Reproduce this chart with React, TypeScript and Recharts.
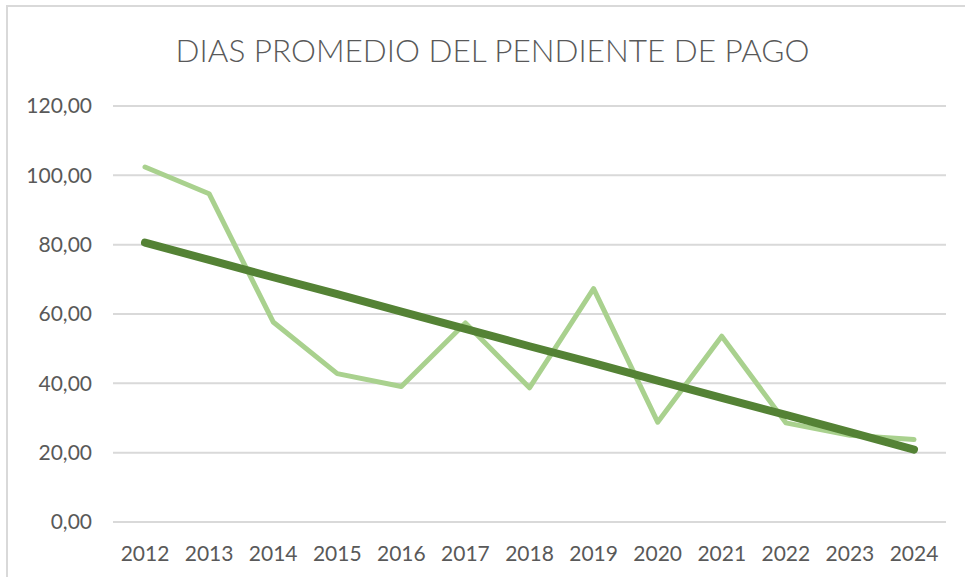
import React from "react";
import { LineChart, Line, XAxis, YAxis, CartesianGrid } from "recharts";

const years = ["2012", "2013", "2014", "2015", "2016", "2017", "2018", "2019", "2020", "2021", "2022", "2023", "2024"];
const diasPromedio = [102.4, 94.7, 57.7, 42.8, 39.1, 57.4, 38.7, 67.3, 28.8, 53.6, 28.6, 25.0, 23.8];
const tendencia = [80.6, 75.6, 70.6, 65.7, 60.7, 55.7, 50.7, 45.8, 40.8, 35.8, 30.9, 25.9, 20.9];
const yTicks = [0, 20, 40, 60, 80, 100, 120];
const title = "DIAS PROMEDIO DEL PENDIENTE DE PAGO";

const data = years.map((y, i) => ({ year: y, value: diasPromedio[i], trend: tendencia[i] }));

const fmt = (v: number) => v.toFixed(2).replace(".", ",");
const FONT = "Lato, 'Open Sans', sans-serif";
const TXT = "#595959";

export default function App() {
  return (
    <div style={{ position: "absolute", left: 0, top: 0, width: 965, height: 577, background: "#fff", overflow: "hidden" }}>
      <div
        style={{
          position: "absolute",
          left: 6,
          top: 5,
          width: 1000,
          height: 1000,
          border: "2px solid #d9d9d9",
          boxSizing: "border-box",
        }}
      />
      <div
        style={{
          position: "absolute",
          left: 0,
          width: 985,
          top: 30,
          textAlign: "center",
          fontFamily: FONT,
          fontSize: 31.5,
          fontWeight: 300,
          color: TXT,
          lineHeight: "40px",
        }}
      >
        {title}
      </div>
      <div style={{ position: "absolute", left: 0, top: 0 }}>
        <LineChart width={965} height={577} data={data} margin={{ top: 106, right: 19, bottom: 0, left: 8 }}>
          <CartesianGrid vertical={false} stroke="#d9d9d9" strokeWidth={2} />
          <XAxis
            dataKey="year"
            axisLine={false}
            tickLine={false}
            tickSize={0}
            tickMargin={24}
            height={55}
            interval={0}
            padding={{ left: 32, right: 32 }}
            tick={{ fill: TXT, fontSize: 21, fontFamily: FONT }}
          />
          <YAxis
            domain={[0, 120]}
            ticks={yTicks}
            tickFormatter={fmt}
            axisLine={false}
            tickLine={false}
            tickSize={0}
            tickMargin={21}
            width={105}
            tick={{ fill: TXT, fontSize: 21, fontFamily: FONT }}
          />
          <Line
            type="linear"
            dataKey="value"
            stroke="#a9d18e"
            strokeWidth={5}
            dot={false}
            strokeLinecap="round"
            strokeLinejoin="round"
            isAnimationActive={false}
          />
          <Line
            type="linear"
            dataKey="trend"
            stroke="#548235"
            strokeWidth={8}
            dot={false}
            strokeLinecap="round"
            isAnimationActive={false}
          />
        </LineChart>
      </div>
    </div>
  );
}
